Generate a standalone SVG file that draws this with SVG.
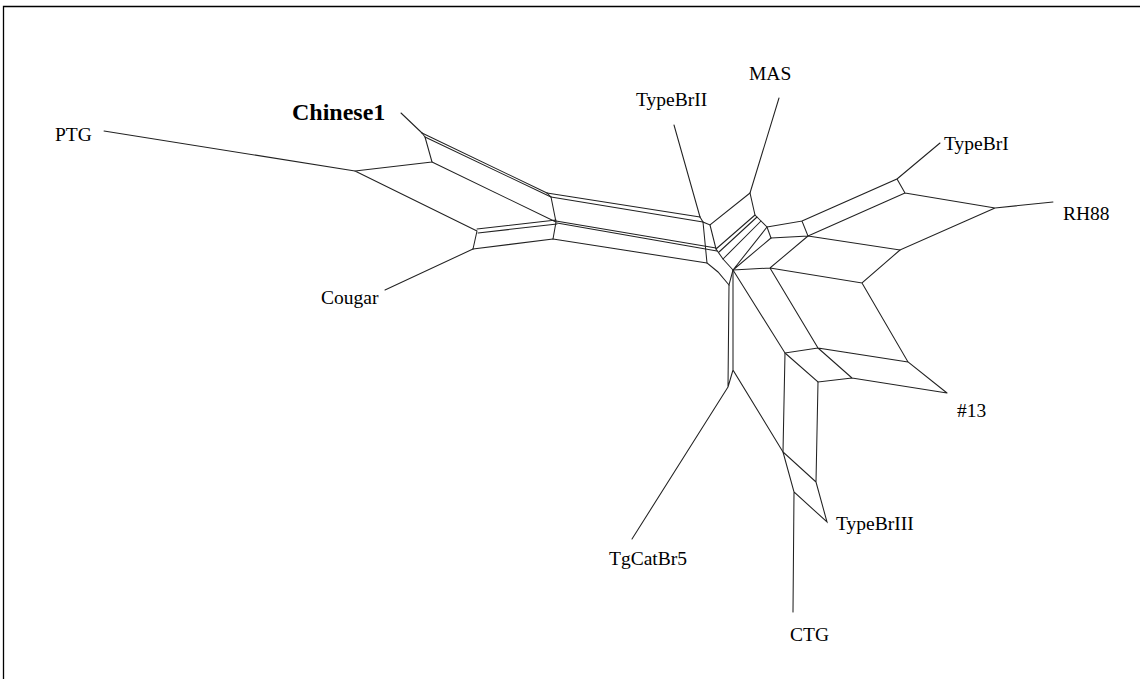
<svg xmlns="http://www.w3.org/2000/svg" width="1140" height="679" viewBox="0 0 1140 679">
<style>
.e{fill:none;stroke:#222;stroke-width:1.05;stroke-linecap:round}
.t{font-family:"Liberation Serif","Times New Roman",serif;font-size:19.5px;fill:#000}
.b{font-weight:bold;font-size:24px}
</style>
<rect width="1140" height="679" fill="#fff"/>
<path d="M3.5 679 V6.5 H1140" fill="none" stroke="#000" stroke-width="1.3"/>
<g id="connectors" class="e">
<path d="M104 131 L355 171 M401 113 L422 133 M385 290 L473 249"/>
<path d="M355 171 L432 162 M355 171 L477 231 M432 162 L425 137 M422 133 L425 137 M477 231 L473 249"/>
<path d="M422 133 L547 193 M425 137 L551 197 M432 162 L556 222 M477 229 L556 220 M478 233 L557 224 M473 249 L553 239"/>
<path d="M547 193 L551 197 L556 222 L553 239"/>
<path d="M547 193 L700 217 M551 197 L703 222 M556 221 L716 248 M557 223 L717 251 M553 239 L707 263"/>
<path d="M674 125 L700 217 M779 98 L750 193"/>
<path d="M700 217 L703 222 L710 225 L750 193 L755 215 L761 221 L767 227 L771 238"/>
<path d="M710 225 L716 249 L723 259 L733 270 M703 222 L707 263 L718 272 L729 285 L733 270"/>
<path d="M755 215 L716 249 M757 217 L719 252 M761 221 L723 259 M767 227 L733 270 M771 238 L733 270"/>
<path d="M767 227 L802 221 L808 236 L771 238 M802 221 L897 179 L905 193 L808 236 M940 143 L897 179 M905 193 L995 208 L1053 202 M995 208 L900 250 L808 236"/>
<path d="M733 270 L770 268 L808 236 M770 268 L862 283 L900 250 M862 283 L908 362 L947 393 M770 268 L818 348 L908 362 M733 270 L785 353 L818 348 M785 353 L818 382 L852 378 L947 393 M818 348 L852 378"/>
<path d="M785 353 L783 452 L816 482 L818 382 M783 452 L794 492 L827 522 L816 482 M794 492 L793 612"/>
<path d="M733 270 L733 370 L783 452 M729 285 L728 387 L733 370 M728 387 L632 539"/>
</g>
<g id="PTG"><text class="t" x="55" y="141">PTG</text></g>
<g id="Chinese1"><text class="t b" x="292" y="120">Chinese1</text></g>
<g id="Cougar"><text class="t" x="321" y="304">Cougar</text></g>
<g id="TypeBrII"><text class="t" x="636" y="106">TypeBrII</text></g>
<g id="MAS"><text class="t" x="749" y="80">MAS</text></g>
<g id="TypeBrI"><text class="t" x="944" y="150">TypeBrI</text></g>
<g id="RH88"><text class="t" x="1063" y="220">RH88</text></g>
<g id="n13"><text class="t" x="957" y="417">#13</text></g>
<g id="TypeBrIII"><text class="t" x="836" y="530">TypeBrIII</text></g>
<g id="TgCatBr5"><text class="t" x="609" y="565">TgCatBr5</text></g>
<g id="CTG"><text class="t" x="790" y="641">CTG</text></g>
</svg>
